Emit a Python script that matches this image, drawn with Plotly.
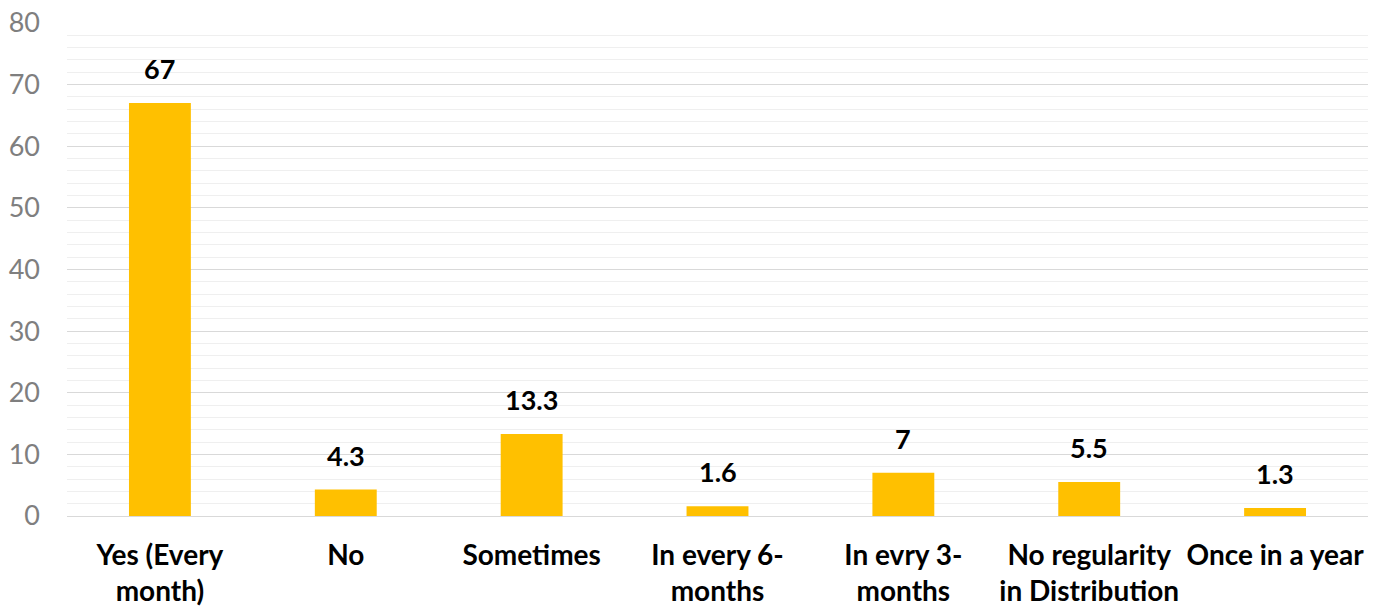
import plotly.graph_objects as go

categories = ["Yes (Every<br>month)", "No", "Sometimes", "In every 6-<br>months",
              "In evry 3-<br>months", "No regularity<br>in Distribution", "Once in a year"]
values = [67, 4.3, 13.3, 1.6, 7, 5.5, 1.3]
labels = ["67", "4.3", "13.3", "1.6", "7", "5.5", "1.3"]
y_ticks = [0, 10, 20, 30, 40, 50, 60, 70, 80]

fig = go.Figure(go.Bar(
    x=categories, y=values,
    marker=dict(color="#FFC000", line=dict(width=0)),
))

for c, v, t in zip(categories, values, labels):
    fig.add_annotation(
        x=c, y=v, text=t, showarrow=False, yanchor="bottom", yshift=16,
        font=dict(family="Lato", size=27, color="black", weight="bold"),
    )

fig.update_layout(
    width=1387, height=608,
    margin=dict(l=67, r=19, t=23, b=92),
    paper_bgcolor="white", plot_bgcolor="white",
    bargap=0.667, showlegend=False,
    font=dict(family="Lato"),
)
fig.update_yaxes(
    range=[0, 80], tickvals=y_ticks, showgrid=True, gridcolor="#d9d9d9", gridwidth=1,
    minor=dict(dtick=2, showgrid=True, gridcolor="#efefef", gridwidth=1),
    zeroline=True, zerolinecolor="#d9d9d9", zerolinewidth=1, automargin=False,
    tickfont=dict(family="Lato", size=27, color="#7f7f7f"), ticks="", ticklabelstandoff=26,
)
fig.update_xaxes(
    tickfont=dict(family="Lato", size=28, color="black", weight="bold"),
    showline=False, ticks="", ticklabelstandoff=20, automargin=False,
)
fig.write_html("out.html")
